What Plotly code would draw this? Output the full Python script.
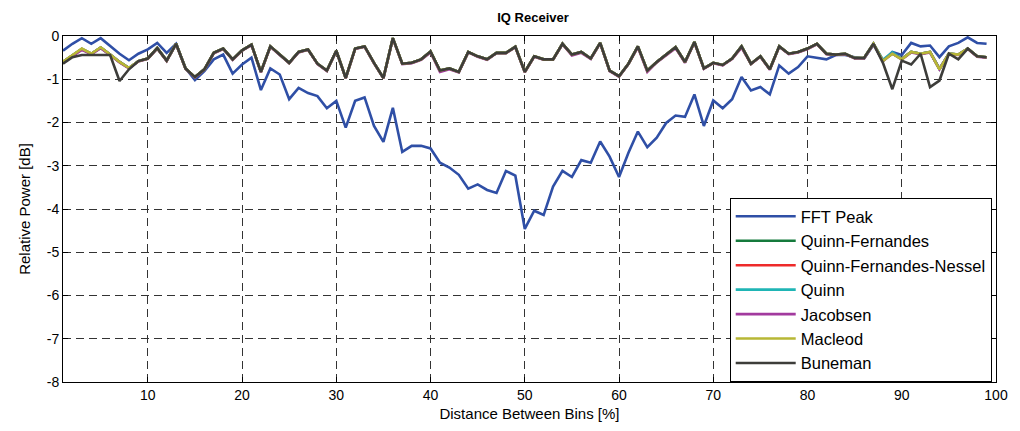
import plotly.graph_objects as go

x_pct = list(range(1, 100))

fft_peak = [-0.34, -0.18, -0.05, -0.18, -0.05, -0.24, -0.41, -0.56, -0.41, -0.31,
            -0.16, -0.39, -0.18, -0.74, -1.02, -0.81, -0.54, -0.43, -0.87, -0.66,
            -0.50, -1.25, -0.75, -0.89, -1.46, -1.20, -1.32, -1.39, -1.67, -1.50,
            -2.12, -1.50, -1.42, -2.08, -2.45, -1.66, -2.68, -2.54, -2.54, -2.60,
            -2.93, -3.04, -3.21, -3.53, -3.43, -3.56, -3.63, -3.12, -3.23, -4.46,
            -4.04, -4.14, -3.48, -3.12, -3.26, -2.87, -2.93, -2.44, -2.79, -3.26,
            -2.70, -2.21, -2.57, -2.35, -2.01, -1.84, -1.87, -1.35, -2.08, -1.49,
            -1.67, -1.46, -0.95, -1.26, -1.18, -1.35, -0.68, -0.87, -0.72, -0.47,
            -0.50, -0.54, -0.44, -0.44, -0.49, -0.52, -0.20, -0.58, -0.37, -0.44,
            -0.16, -0.24, -0.22, -0.49, -0.24, -0.16, -0.03, -0.16, -0.18]

quinn_fernandes = [-0.60, -0.45, -0.30, -0.41, -0.27, -0.43, -0.60, -0.74, -0.58, -0.52,
                   -0.28, -0.57, -0.18, -0.75, -0.95, -0.77, -0.39, -0.29, -0.54, -0.33,
                   -0.20, -0.83, -0.24, -0.43, -0.62, -0.37, -0.31, -0.64, -0.80, -0.34,
                   -0.97, -0.29, -0.24, -0.62, -0.97, -0.05, -0.64, -0.62, -0.54, -0.36,
                   -0.80, -0.75, -0.83, -0.37, -0.47, -0.54, -0.39, -0.39, -0.25, -0.83,
                   -0.47, -0.54, -0.54, -0.18, -0.43, -0.37, -0.52, -0.16, -0.80, -0.93,
                   -0.64, -0.24, -0.80, -0.60, -0.44, -0.26, -0.60, -0.14, -0.75, -0.62,
                   -0.67, -0.52, -0.24, -0.64, -0.47, -0.77, -0.24, -0.41, -0.37, -0.29,
                   -0.18, -0.41, -0.43, -0.41, -0.51, -0.51, -0.18, -0.57, -0.40, -0.53,
                   -0.37, -0.41, -0.37, -0.76, -0.41, -0.43, -0.29, -0.47, -0.49]

quinn_fernandes_nessel = [-0.60, -0.45, -0.30, -0.41, -0.27, -0.43, -0.60, -0.74, -0.58, -0.52,
                          -0.28, -0.57, -0.18, -0.75, -0.95, -0.77, -0.39, -0.29, -0.54, -0.33,
                          -0.20, -0.83, -0.24, -0.43, -0.62, -0.37, -0.31, -0.64, -0.80, -0.34,
                          -0.97, -0.29, -0.24, -0.62, -0.97, -0.05, -0.64, -0.62, -0.54, -0.36,
                          -0.80, -0.75, -0.83, -0.37, -0.47, -0.54, -0.39, -0.39, -0.25, -0.83,
                          -0.47, -0.54, -0.54, -0.18, -0.43, -0.37, -0.52, -0.16, -0.80, -0.93,
                          -0.64, -0.24, -0.80, -0.60, -0.44, -0.26, -0.60, -0.14, -0.75, -0.62,
                          -0.67, -0.52, -0.24, -0.64, -0.47, -0.77, -0.24, -0.41, -0.37, -0.29,
                          -0.18, -0.41, -0.43, -0.41, -0.51, -0.51, -0.18, -0.57, -0.40, -0.53,
                          -0.37, -0.41, -0.37, -0.76, -0.41, -0.43, -0.29, -0.47, -0.49]

quinn = [-0.60, -0.45, -0.30, -0.41, -0.27, -0.43, -0.60, -0.74, -0.58, -0.52,
         -0.28, -0.57, -0.18, -0.75, -0.95, -0.77, -0.39, -0.29, -0.54, -0.33,
         -0.20, -0.83, -0.24, -0.43, -0.62, -0.37, -0.31, -0.64, -0.80, -0.34,
         -0.97, -0.29, -0.24, -0.62, -0.97, -0.05, -0.64, -0.62, -0.54, -0.36,
         -0.80, -0.75, -0.83, -0.37, -0.47, -0.54, -0.39, -0.39, -0.25, -0.83,
         -0.47, -0.54, -0.54, -0.18, -0.43, -0.37, -0.52, -0.16, -0.80, -0.93,
         -0.64, -0.24, -0.80, -0.60, -0.44, -0.26, -0.60, -0.14, -0.75, -0.62,
         -0.67, -0.52, -0.24, -0.64, -0.47, -0.77, -0.24, -0.41, -0.37, -0.29,
         -0.18, -0.41, -0.43, -0.41, -0.51, -0.51, -0.18, -0.55, -0.38, -0.53,
         -0.37, -0.41, -0.37, -0.76, -0.41, -0.43, -0.29, -0.47, -0.49]

jacobsen = [-0.61, -0.46, -0.32, -0.42, -0.28, -0.44, -0.61, -0.75, -0.59, -0.53,
            -0.29, -0.58, -0.19, -0.76, -0.96, -0.78, -0.40, -0.30, -0.55, -0.34,
            -0.21, -0.84, -0.25, -0.44, -0.63, -0.38, -0.32, -0.65, -0.81, -0.35,
            -0.98, -0.30, -0.25, -0.63, -0.98, -0.06, -0.65, -0.63, -0.55, -0.38,
            -0.83, -0.77, -0.84, -0.38, -0.48, -0.55, -0.40, -0.40, -0.26, -0.84,
            -0.48, -0.55, -0.55, -0.19, -0.45, -0.39, -0.53, -0.17, -0.81, -0.94,
            -0.65, -0.26, -0.83, -0.61, -0.45, -0.28, -0.62, -0.15, -0.76, -0.63,
            -0.68, -0.53, -0.27, -0.65, -0.48, -0.78, -0.25, -0.42, -0.38, -0.30,
            -0.19, -0.42, -0.44, -0.42, -0.52, -0.52, -0.19, -0.58, -0.41, -0.54,
            -0.38, -0.42, -0.38, -0.77, -0.42, -0.44, -0.30, -0.48, -0.50]

macleod = [-0.60, -0.45, -0.29, -0.41, -0.26, -0.43, -0.60, -0.74, -0.58, -0.52,
           -0.28, -0.57, -0.18, -0.75, -0.95, -0.77, -0.39, -0.29, -0.54, -0.33,
           -0.20, -0.83, -0.24, -0.43, -0.62, -0.37, -0.31, -0.64, -0.80, -0.34,
           -0.97, -0.29, -0.24, -0.62, -0.97, -0.05, -0.64, -0.62, -0.54, -0.36,
           -0.80, -0.75, -0.83, -0.37, -0.47, -0.54, -0.39, -0.39, -0.25, -0.83,
           -0.47, -0.54, -0.54, -0.18, -0.43, -0.37, -0.52, -0.16, -0.80, -0.93,
           -0.64, -0.24, -0.80, -0.60, -0.44, -0.26, -0.60, -0.14, -0.75, -0.62,
           -0.67, -0.52, -0.24, -0.64, -0.47, -0.77, -0.24, -0.41, -0.37, -0.29,
           -0.18, -0.41, -0.43, -0.41, -0.51, -0.51, -0.18, -0.58, -0.41, -0.54,
           -0.37, -0.41, -0.37, -0.77, -0.41, -0.43, -0.29, -0.47, -0.49]

buneman = [-0.64, -0.49, -0.44, -0.44, -0.44, -0.44, -1.04, -0.77, -0.58, -0.52,
           -0.28, -0.57, -0.18, -0.75, -0.95, -0.77, -0.39, -0.29, -0.54, -0.33,
           -0.20, -0.83, -0.24, -0.43, -0.62, -0.37, -0.31, -0.64, -0.80, -0.34,
           -0.97, -0.29, -0.24, -0.62, -0.97, -0.05, -0.64, -0.62, -0.54, -0.36,
           -0.80, -0.75, -0.83, -0.37, -0.47, -0.54, -0.39, -0.39, -0.25, -0.83,
           -0.47, -0.54, -0.54, -0.18, -0.43, -0.37, -0.52, -0.16, -0.80, -0.93,
           -0.64, -0.24, -0.80, -0.60, -0.44, -0.26, -0.60, -0.14, -0.75, -0.62,
           -0.67, -0.52, -0.24, -0.64, -0.47, -0.77, -0.24, -0.41, -0.37, -0.29,
           -0.18, -0.41, -0.43, -0.41, -0.51, -0.51, -0.18, -0.62, -1.23, -0.57,
           -0.66, -0.41, -1.18, -1.03, -0.41, -0.54, -0.29, -0.47, -0.49]

series_names = ["FFT Peak", "Quinn-Fernandes", "Quinn-Fernandes-Nessel", "Quinn",
                "Jacobsen", "Macleod", "Buneman"]
series_values = [fft_peak, quinn_fernandes, quinn_fernandes_nessel, quinn,
                 jacobsen, macleod, buneman]
series_colors = ["#2f4fa6", "#157a3c", "#ee2a2a", "#1fb5b5", "#a23a9e", "#b7b735", "#3d3d3a"]

x_ticks = [10, 20, 30, 40, 50, 60, 70, 80, 90, 100]
y_ticks = [0, -1, -2, -3, -4, -5, -6, -7, -8]
y_ticktext = ["0", "-1", "-2", "-3", "-4", "-5", "-6", "-7", "-8"]

FONT = "Liberation Sans, Arial, sans-serif"

fig = go.Figure()
for i, (name, vals, col) in enumerate(zip(series_names, series_values, series_colors)):
    fig.add_trace(go.Scatter(
        x=x_pct, y=vals, mode="lines", name=name,
        line=dict(color=col, width=2.6),
    ))

fig.update_layout(
    width=1020, height=431,
    margin=dict(l=63, r=18, t=36, b=47),
    paper_bgcolor="white", plot_bgcolor="white",
    font=dict(family=FONT, size=14, color="black"),
    title=dict(text="<b>IQ Receiver</b>", x=533 / 1020, xanchor="center",
               y=1 - 17 / 431, yanchor="middle", font=dict(size=13, family=FONT)),
    showlegend=True,
    legend=dict(
        x=(734 - 63) / 939, y=(384 - 199) / 348, xanchor="left", yanchor="top",
        bgcolor="white", bordercolor="black", borderwidth=1,
        font=dict(size=16.5, family=FONT), itemwidth=60,
    ),
)

fig.update_xaxes(
    range=[1, 100], tickvals=x_ticks, ticktext=[str(v) for v in x_ticks],
    showline=True, linecolor="black", linewidth=1, mirror="allticks",
    ticks="inside", ticklen=5, tickcolor="black",
    showgrid=True, gridcolor="#333333", gridwidth=1, griddash="8px,5px",
    zeroline=False,
    title=dict(text="Distance Between Bins [%]", font=dict(size=15, family=FONT), standoff=6),
    tickfont=dict(size=14, family=FONT),
)
fig.update_yaxes(
    range=[-8, 0], tickvals=y_ticks, ticktext=y_ticktext,
    showline=True, linecolor="black", linewidth=1, mirror="allticks",
    ticks="inside", ticklen=5, tickcolor="black",
    showgrid=True, gridcolor="#333333", gridwidth=1, griddash="8px,5px",
    zeroline=False,
    title=dict(text="Relative Power [dB]", font=dict(size=15, family=FONT), standoff=12),
    tickfont=dict(size=14, family=FONT),
)

fig.write_html("out.html", config={"displayModeBar": False})
